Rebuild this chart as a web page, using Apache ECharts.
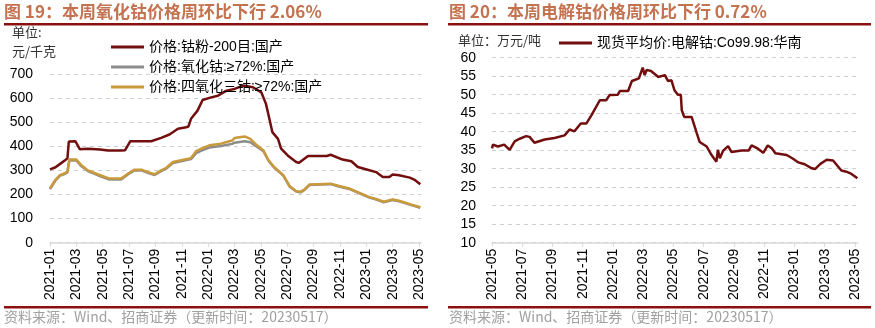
<!DOCTYPE html>
<html>
<head>
<meta charset="utf-8">
<script src="https://cdn.jsdelivr.net/npm/echarts@6/dist/echarts.min.js"></script>
<style>
html,body{margin:0;padding:0;background:#fff;}
#c{width:875px;height:328px;}
</style>
</head>
<body>
<div id="c"></div>
<script>
// ---------- Left chart data (元/千克) ----------
const powderDates = ['2021-01-01','2021-01-13','2021-01-24','2021-02-05','2021-02-10','2021-02-13','2021-02-27','2021-03-09','2021-03-28','2021-04-25','2021-05-13','2021-06-13','2021-06-22','2021-07-04','2021-08-22','2021-09-14','2021-10-03','2021-10-23','2021-11-11','2021-11-16','2021-11-22','2021-12-07','2021-12-19','2022-01-08','2022-01-24','2022-02-12','2022-03-01','2022-03-21','2022-04-13','2022-05-02','2022-05-13','2022-05-21','2022-05-28','2022-06-10','2022-06-17','2022-07-02','2022-07-22','2022-07-28','2022-08-19','2022-10-01','2022-10-10','2022-11-07','2022-11-27','2022-12-12','2023-01-04','2023-01-24','2023-02-08','2023-02-22','2023-03-01','2023-03-16','2023-04-10','2023-04-20','2023-05-04'];
const cobaltPowder = [304,312,326,342,350,420,421,388,390,387,383,383,384,421,421,435,449,473,479,482,514,548,592,603,610,631,638,652,645,624,576,514,459,431,390,362,335,331,360,360,365,345,338,314,303,293,273,273,283,280,270,262,243];

const oxideDates = ['2021-01-01','2021-01-13','2021-01-24','2021-02-05','2021-02-10','2021-02-14','2021-03-01','2021-03-13','2021-03-28','2021-04-21','2021-05-17','2021-06-13','2021-06-29','2021-07-14','2021-07-30','2021-08-14','2021-08-30','2021-09-14','2021-09-26','2021-10-11','2021-10-30','2021-11-22','2021-12-04','2021-12-16','2022-01-04','2022-01-31','2022-02-24','2022-03-01','2022-03-04','2022-03-25','2022-04-07','2022-04-22','2022-05-07','2022-05-19','2022-06-01','2022-06-10','2022-06-22','2022-07-07','2022-07-22','2022-08-01','2022-08-10','2022-08-22','2022-09-14','2022-10-10','2022-11-01','2022-11-22','2022-12-16','2023-01-07','2023-01-28','2023-02-10','2023-03-01','2023-03-16','2023-04-10','2023-05-04'];
const cobaltOxide = [222,256,277,286,292,341,341,317,297,279,262,262,284,300,300,290,281,297,308,331,338,347,372,382,395,401,410,415,418,421,417,398,380,340,312,298,278,232,212,209,218,239,241,243,232,223,205,188,177,168,177,172,158,145];
const tricobaltTetroxide = [225,259,280,289,295,345,345,321,300,283,266,266,287,303,303,293,284,300,311,335,342,351,380,390,404,411,424,434,441,441,431,404,383,342,314,300,280,234,214,211,220,241,243,245,234,225,207,190,179,170,179,174,160,147];

const leftYTicks = [0,100,200,300,400,500,600,700];

// ---------- Right chart data (万元/吨) ----------
const cathodeDates = ['2021-05-01','2021-05-03','2021-05-13','2021-05-26','2021-06-06','2021-06-16','2021-06-26','2021-07-09','2021-07-16','2021-07-26','2021-08-16','2021-09-05','2021-09-25','2021-10-05','2021-10-15','2021-10-28','2021-11-08','2021-11-19','2021-12-05','2021-12-18','2021-12-25','2022-01-11','2022-01-15','2022-02-01','2022-02-08','2022-02-21','2022-02-28','2022-03-04','2022-03-08','2022-03-12','2022-03-17','2022-04-01','2022-04-14','2022-04-20','2022-04-27','2022-05-03','2022-05-10','2022-05-16','2022-05-18','2022-05-23','2022-06-07','2022-06-17','2022-06-23','2022-07-07','2022-07-17','2022-07-27','2022-07-30','2022-08-03','2022-08-10','2022-08-20','2022-08-27','2022-09-16','2022-09-30','2022-10-06','2022-10-19','2022-10-30','2022-11-08','2022-11-16','2022-11-23','2022-12-16','2022-12-29','2023-01-09','2023-01-22','2023-02-05','2023-02-11','2023-02-21','2023-03-05','2023-03-18','2023-04-04','2023-04-14','2023-04-24','2023-05-06'];
const cathodeCobalt = [35.5,36.5,36.0,36.5,35.1,37.4,38.1,38.8,38.6,37.0,37.9,38.3,39.0,40.6,40.1,42.2,42.2,44.6,48.5,48.5,49.9,50.0,51.0,51.0,53.7,54.4,57.3,55.3,56.7,56.9,56.4,54.8,55.3,53.7,53.9,51.2,50.0,50.0,45.8,44.0,44.0,39.7,37.2,36.0,33.7,31.9,35.1,32.8,34.9,36.1,34.5,34.9,34.9,36.3,35.4,34.3,36.3,35.5,34.2,33.7,32.7,31.7,31.2,30.1,29.9,31.3,32.4,32.2,29.5,29.2,28.6,27.4];

const rightYTicks = [10,15,20,25,30,35,40,45,50,55,60];

// ---------- helpers ----------
function monthIndex(d, baseYear, baseMonth){
  const p = d.split('-').map(Number);
  const dim = new Date(p[0], p[1], 0).getDate();
  return (p[0]-baseYear)*12 + (p[1]-baseMonth) + (p[2]-1)/dim;
}
function toPairs(dates, vals, by, bm){ return dates.map((d,i)=>[monthIndex(d,by,bm), vals[i]]); }
function monthLabel(v, by, bm){
  const t = Math.round(v) + (bm-1);
  const y = by + Math.floor(t/12);
  const m = (t%12)+1;
  return y + '-' + (m<10?'0':'') + m;
}
const leftTicks = []; for(let i=0;i<=28;i+=2) leftTicks.push(i);
const rightTicks = []; for(let i=0;i<=24;i+=2) rightTicks.push(i);

const MAROON = '#720E0E', GRAY = '#8C8C8C', GOLD = '#C99A3C';
const TITLE = '#C47350', RULE = '#8B1010';
const FONT = 'Liberation Sans, Arial, "Noto Sans CJK SC", sans-serif';
const CJK = '"Noto Sans CJK SC", sans-serif';

const splitLine = {show:true, lineStyle:{color:'#CFCFCF', type:[4,4], width:1}};
function xAxisCfg(gi, max, ticks, by, bm){
  return {
    type:'value', gridIndex:gi, min:0, max:max, interval:2,
    axisLine:{show:true, lineStyle:{color:'#D9D9D9', width:1.5}},
    axisTick:{show:true, length:4, lineStyle:{color:'#D9D9D9'}, customValues:ticks},
    splitLine:{show:false},
    axisLabel:{rotate:90, color:'#000', fontSize:14, fontFamily:FONT, margin:6, customValues:ticks,
      formatter:v=> (Math.abs(v-Math.round(v))<1e-6 && Math.round(v)%2===0) ? monthLabel(v,by,bm) : ''}
  };
}

const chart = echarts.init(document.getElementById('c'), null, {renderer:'canvas'});
chart.setOption({
  animation:false,
  grid:[
    {left:50, top:74, width:371, height:168.7, containLabel:false},
    {left:492, top:57.7, width:366, height:185, containLabel:false}
  ],
  xAxis:[ xAxisCfg(0, 28.15, leftTicks, 2021, 1), xAxisCfg(1, 24.2, rightTicks, 2021, 5) ],
  yAxis:[
    {type:'value', gridIndex:0, min:0, max:700, interval:100, splitLine:splitLine,
     axisLine:{show:false}, axisTick:{show:false},
     axisLabel:{color:'#000', fontSize:14, fontFamily:FONT, margin:17}},
    {type:'value', gridIndex:1, min:10, max:60, interval:5, splitLine:splitLine,
     axisLine:{show:false}, axisTick:{show:false},
     axisLabel:{color:'#000', fontSize:14, fontFamily:FONT, margin:16}}
  ],
  legend:[
    {orient:'vertical', left:106, top:35, itemWidth:33, itemHeight:3, itemGap:6,
     icon:'rect', textStyle:{fontSize:14, color:'#000', fontFamily:FONT},
     data:['价格:钴粉-200目:国产','价格:氧化钴:≥72%:国产','价格:四氧化三钴:≥72%:国产']},
    {orient:'horizontal', left:554, top:31, itemWidth:33, itemHeight:3, icon:'rect',
     textStyle:{fontSize:14, color:'#000', fontFamily:FONT},
     data:['现货平均价:电解钴:Co99.98:华南']}
  ],
  series:[
    {name:'价格:钴粉-200目:国产', type:'line', xAxisIndex:0, yAxisIndex:0, showSymbol:false,
     itemStyle:{color:MAROON}, lineStyle:{color:MAROON, width:2.5}, data:toPairs(powderDates, cobaltPowder, 2021, 1)},
    {name:'价格:氧化钴:≥72%:国产', type:'line', xAxisIndex:0, yAxisIndex:0, showSymbol:false,
     itemStyle:{color:GRAY}, lineStyle:{color:GRAY, width:2.5}, data:toPairs(oxideDates, cobaltOxide, 2021, 1)},
    {name:'价格:四氧化三钴:≥72%:国产', type:'line', xAxisIndex:0, yAxisIndex:0, showSymbol:false,
     itemStyle:{color:GOLD}, lineStyle:{color:GOLD, width:2.5}, data:toPairs(oxideDates, tricobaltTetroxide, 2021, 1)},
    {name:'现货平均价:电解钴:Co99.98:华南', type:'line', xAxisIndex:1, yAxisIndex:1, showSymbol:false,
     itemStyle:{color:MAROON}, lineStyle:{color:MAROON, width:2.5}, data:toPairs(cathodeDates, cathodeCobalt, 2021, 5)}
  ],
  graphic:[
    {type:'text', left:4, top:3, style:{text:'图 19：本周氧化钴价格周环比下行 2.06%', fill:TITLE, font:'bold 17px '+CJK}},
    {type:'text', left:449, top:3, style:{text:'图 20：本周电解钴价格周环比下行 0.72%', fill:TITLE, font:'bold 17px '+CJK}},
    {type:'rect', shape:{x:4, y:23, width:424, height:2.5}, style:{fill:RULE}},
    {type:'rect', shape:{x:448, y:23, width:423, height:2.5}, style:{fill:RULE}},
    {type:'rect', shape:{x:4, y:306, width:424, height:2.5}, style:{fill:RULE}},
    {type:'rect', shape:{x:448, y:306, width:423, height:2.5}, style:{fill:RULE}},
    {type:'text', left:12, top:26, style:{text:'单位:', fill:'#333', font:'13px '+CJK}},
    {type:'text', left:12, top:45, style:{text:'元/千克', fill:'#333', font:'13px '+CJK}},
    {type:'text', left:458, top:34, style:{text:'单位：万元/吨', fill:'#333', font:'13px '+CJK}},
    {type:'text', left:4, top:310, style:{text:'资料来源：Wind、招商证券（更新时间：20230517）', fill:'#A0A0A0', font:'14px '+CJK}},
    {type:'text', left:449, top:310, style:{text:'资料来源：Wind、招商证券（更新时间：20230517）', fill:'#A0A0A0', font:'14px '+CJK}}
  ]
});
</script>
</body>
</html>
